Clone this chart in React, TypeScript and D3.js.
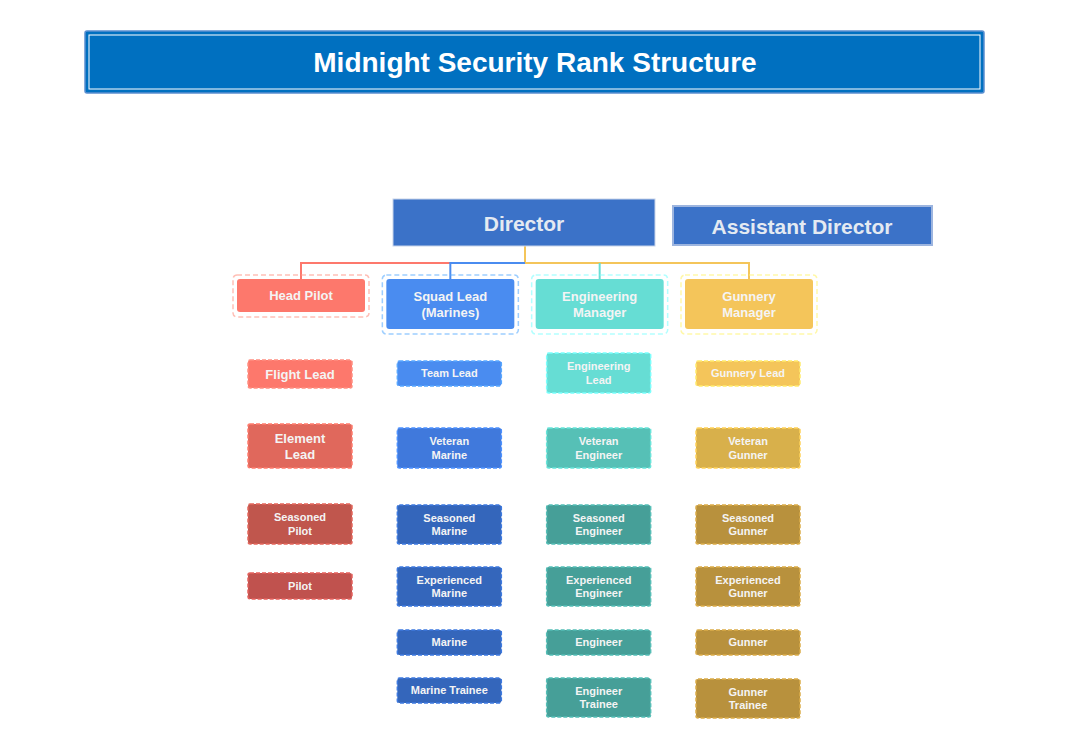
import { useEffect, useRef } from 'react';
import * as d3 from 'd3';

// column headers and their ranks
const MANAGERS = ['Head Pilot', 'Squad Lead\n(Marines)', 'Engineering\nManager', 'Gunnery\nManager'];
const MANAGER_COLORS = ['#fd786c', '#4a8cf0', '#66ddd4', '#f4c55a'];
const PILOT_RANKS = ['Flight Lead', 'Element\nLead', 'Seasoned\nPilot', 'Pilot'];
const MARINE_RANKS = ['Team Lead', 'Veteran\nMarine', 'Seasoned\nMarine', 'Experienced\nMarine', 'Marine', 'Marine Trainee'];
const ENGINEER_RANKS = ['Engineering\nLead', 'Veteran\nEngineer', 'Seasoned\nEngineer', 'Experienced\nEngineer', 'Engineer', 'Engineer\nTrainee'];
const GUNNER_RANKS = ['Gunnery Lead', 'Veteran\nGunner', 'Seasoned\nGunner', 'Experienced\nGunner', 'Gunner', 'Gunner\nTrainee'];
const PILOT_COLORS = ['#fd786c', '#e0685c', '#c0564d', '#c0524e'];
const MARINE_COLORS = ['#4a8cf0', '#4079dc', '#3466bb', '#3466bb', '#3466bb', '#3466bb'];
const ENGINEER_COLORS = ['#66ddd4', '#56c0b6', '#469f98', '#469f98', '#469f98', '#469f98'];
const GUNNER_COLORS = ['#f4c55a', '#d8b04b', '#b8913d', '#b8913d', '#b8913d', '#b8913d'];

// layout: row box [top, bottom] per column
const PILOT_ROWS = [[360, 388], [424, 468], [504, 544], [573, 599]];
const OTHER_ROWS = [[361, 386], [428, 468], [505, 544], [567, 606], [630, 655], [678, 703]];
const ENG_ROWS = [[353, 393], [428, 468], [505, 544], [567, 606], [630, 655], [678, 717]];
const GUN_ROWS = [[361, 386], [428, 468], [505, 544], [567, 606], [630, 655], [679, 718]];

const FONT = '"Liberation Sans", Arial, sans-serif';

export default function App() {
  const ref = useRef<SVGSVGElement>(null);

  useEffect(() => {
    const svg = d3.select(ref.current);
    svg.selectAll('*').remove();

    const colX = d3.scalePoint<number>().domain([0, 1, 2, 3]).range([301, 749]);

    // title
    svg.append('rect').attr('x', 85).attr('y', 31).attr('width', 899).attr('height', 62)
      .attr('rx', 2).attr('fill', '#0070c0').attr('stroke', '#5b8fd0').attr('stroke-width', 1.5);
    svg.append('rect').attr('x', 89).attr('y', 35).attr('width', 891).attr('height', 54)
      .attr('fill', 'none').attr('stroke', '#ffffff').attr('stroke-width', 1);
    svg.append('text').attr('x', 535).attr('y', 72).attr('text-anchor', 'middle')
      .attr('font-family', FONT).attr('font-weight', 'bold').attr('font-size', 28)
      .attr('fill', '#fff').text('Midnight Security Rank Structure');

    const label = (cx: number, cy: number, txt: string, size: number, fill = '#f4f4f4') => {
      const lines = txt.split('\n');
      const lh = size * 1.25;
      lines.forEach((l, i) => {
        svg.append('text').attr('x', cx).attr('y', cy + (i - (lines.length - 1) / 2) * lh + size * 0.36)
          .attr('text-anchor', 'middle').attr('font-family', FONT).attr('font-weight', 'bold')
          .attr('font-size', size).attr('fill', fill).text(l);
      });
    };

    // connectors
    const line = (pts: [number, number][], color: string) =>
      svg.append('path').attr('d', d3.line().curve(d3.curveLinear)(pts)).attr('fill', 'none')
        .attr('stroke', color).attr('stroke-width', 2);
    const busY = 263;
    line([[525, 246], [525, busY], [colX(3)!, busY], [colX(3)!, 279]], '#f4c55a');
    line([[colX(2)!, busY], [colX(2)!, 279]], '#66ddd4');
    line([[colX(1)!, busY], [colX(0)!, busY], [colX(0)!, 280]], '#fd786c');
    line([[525, busY], [colX(1)!, busY], [colX(1)!, 279]], '#4a8cf0');

    // director boxes
    svg.append('rect').attr('x', 393).attr('y', 199).attr('width', 262).attr('height', 47)
      .attr('fill', '#3b72c8').attr('stroke', '#c8d4ea').attr('stroke-width', 1);
    label(524, 223, 'Director', 21, '#e4eaf2');
    svg.append('rect').attr('x', 673).attr('y', 206).attr('width', 259).attr('height', 39)
      .attr('fill', '#3b72c8').attr('stroke', '#9db5df').attr('stroke-width', 2);
    label(802, 226, 'Assistant Director', 21, '#e4eaf2');

    // managers
    MANAGERS.forEach((m, i) => {
      const cx = colX(i)!;
      const h = i === 0 ? 33 : 50;
      svg.append('rect').attr('x', cx - 68).attr('y', 275).attr('width', 136).attr('height', h + 9)
        .attr('rx', 4).attr('fill', 'none').attr('stroke', d3.color(MANAGER_COLORS[i])!.brighter(0.6).formatHex())
        .attr('stroke-opacity', 0.6).attr('stroke-width', 1.5).attr('stroke-dasharray', '5,3');
      svg.append('rect').attr('x', cx - 64).attr('y', 279).attr('width', 128).attr('height', h)
        .attr('rx', 3).attr('fill', MANAGER_COLORS[i]);
      label(cx, 279 + h / 2, m, 13);
    });

    // ranks
    const cols: [string[], string[], number[][]][] = [
      [PILOT_RANKS, PILOT_COLORS, PILOT_ROWS],
      [MARINE_RANKS, MARINE_COLORS, OTHER_ROWS],
      [ENGINEER_RANKS, ENGINEER_COLORS, ENG_ROWS],
      [GUNNER_RANKS, GUNNER_COLORS, GUN_ROWS],
    ];
    cols.forEach(([ranks, colors, rows], c) => {
      const cx = colX(c)! - 1;
      ranks.forEach((r, i) => {
        const [t, b] = rows[i];
        svg.append('rect').attr('x', cx - 52).attr('y', t).attr('width', 104).attr('height', b - t)
          .attr('rx', 2).attr('fill', colors[i])
          .attr('stroke', d3.color(colors[i])!.brighter(0.5).formatHex())
          .attr('stroke-width', 1.5).attr('stroke-dasharray', '4,2');
        const size = c === 0 && i < 2 ? 13 : 11;
        label(cx, (t + b) / 2, r, size);
      });
    });
  }, []);

  return (
    <svg ref={ref} width={1089} height={734}
      style={{ position: 'absolute', left: 0, top: 0, background: '#fff' }} />
  );
}
